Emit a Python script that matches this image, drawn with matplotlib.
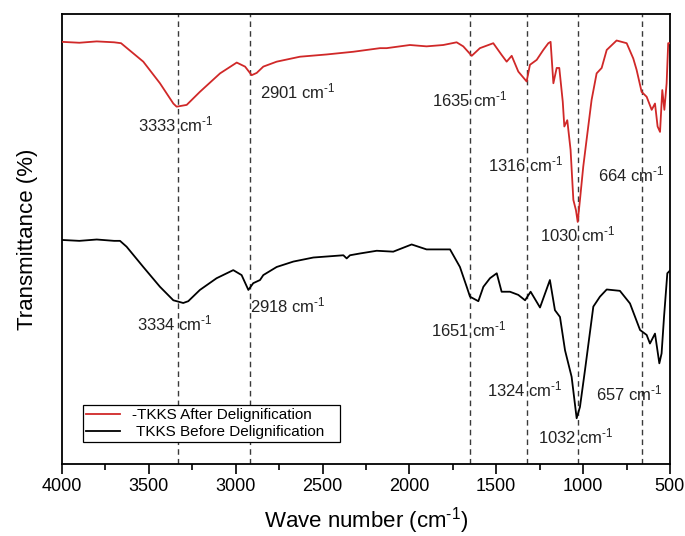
import matplotlib
matplotlib.use("Agg")
import matplotlib.pyplot as plt
from matplotlib.ticker import MultipleLocator

plt.rcParams['font.family'] = ['Liberation Sans', 'DejaVu Sans']
plt.rcParams['mathtext.default'] = 'regular'

# After delignification (red)
after_wn = [4000, 3900, 3800, 3700, 3660, 3532, 3436, 3359, 3340, 3282, 3206, 3090, 2994, 2946,
            2908, 2879, 2841, 2764, 2630, 2476, 2323, 2169, 2131, 1997, 1901, 1805, 1728, 1690,
            1641, 1594, 1517, 1469, 1440, 1411, 1373, 1325, 1306, 1267, 1229, 1200, 1187, 1171,
            1152, 1137, 1117, 1108, 1091, 1072, 1056, 1041, 1031, 1018, 999, 980, 951, 922, 893,
            864, 807, 749, 711, 692, 663, 634, 605, 586, 571, 557, 544, 532, 519, 510, 500]
after_t = [93.8, 93.6, 93.9, 93.7, 93.5, 89.4, 84.6, 80.1, 79.4, 79.8, 82.7, 86.8, 89.2, 88.3,
           86.4, 86.9, 88.3, 89.4, 90.5, 91.0, 91.6, 92.4, 92.4, 93.1, 92.8, 93.1, 93.7, 92.8,
           90.7, 92.4, 93.5, 90.9, 89.4, 90.7, 87.2, 85.0, 88.7, 89.8, 92.0, 93.5, 93.8, 84.6,
           88.0, 88.0, 80.5, 75.0, 76.4, 69.8, 58.7, 56.4, 53.8, 58.7, 66.1, 72.0, 80.9, 86.8, 88.0,
           92.0, 94.1, 93.5, 90.1, 87.6, 82.7, 81.6, 78.7, 80.1, 75.0, 73.8, 83.1, 78.7, 84.6, 93.5, 93.5]

# Before delignification (black)
before_wn = [4000, 3900, 3800, 3700, 3666, 3628, 3532, 3436, 3359, 3302, 3273, 3206, 3110, 3014,
             2966, 2927, 2899, 2860, 2841, 2764, 2668, 2553, 2380, 2361, 2342, 2284, 2188, 2093,
             1987, 1901, 1766, 1709, 1670, 1651, 1603, 1574, 1536, 1497, 1469, 1421, 1373, 1334,
             1302, 1248, 1191, 1162, 1133, 1104, 1066, 1037, 1018, 989, 941, 903, 864, 788, 730,
             672, 634, 615, 586, 561, 548, 534, 515, 500]
before_t = [49.8, 49.6, 49.9, 49.6, 49.6, 48.3, 43.8, 39.4, 36.4, 35.8, 36.2, 38.7, 41.3, 43.1,
            42.0, 38.7, 40.2, 40.9, 42.0, 43.8, 45.0, 45.9, 46.4, 45.7, 46.4, 46.8, 47.4, 47.2,
            48.8, 47.7, 47.7, 43.8, 39.4, 37.2, 36.2, 39.4, 41.3, 42.4, 38.3, 38.3, 37.6, 36.4,
            38.3, 34.8, 40.9, 34.2, 32.7, 25.3, 19.4, 10.2, 12.7, 20.9, 35.0, 37.2, 38.8, 38.5, 35.7,
            29.8, 28.7, 26.8, 29.0, 22.4, 24.6, 32.7, 42.4, 43.0]

peak_lines = [3334, 2918, 1651, 1324, 1032, 660]

labels_after = ['3333', '2901', '1635', '1316', '664', '1030']
labels_after_pos = [(3562, 73.8), (2860, 81.3), (1872, 79.4), (1548, 65.0), (914, 62.7), (1248, 49.4)]
labels_before = ['3334', '2918', '1651', '1324', '657', '1032']
labels_before_pos = [(3568, 29.8), (2918, 33.8), (1876, 28.3), (1553, 15.0), (926, 14.2), (1260, 4.6)]

SUP = '$^{\u2010' + '1}$'

fig = plt.figure(figsize=(6.85, 5.36), dpi=100)
ax = fig.add_axes([0.0905, 0.134, 0.8875, 0.840])

for w in peak_lines:
    ax.axvline(w, color='#3a3a3a', lw=1.0, dashes=(4, 3), zorder=1)

ax.plot(after_wn, after_t, color='#d02828', lw=1.3, label='-TKKS After Delignification', zorder=3)
ax.plot(before_wn, before_t, color='black', lw=1.3, label=' TKKS Before Delignification', zorder=3)

for lab, (x, y) in zip(labels_after + labels_before, labels_after_pos + labels_before_pos):
    ax.text(x, y, lab + ' cm' + SUP, fontsize=12, ha='left', va='baseline', color='#222222', zorder=4)

ax.set_xlim(4000, 500)
ax.set_ylim(0, 100)
ax.xaxis.set_major_locator(MultipleLocator(500))
ax.xaxis.set_minor_locator(MultipleLocator(250))
ax.tick_params(axis='x', which='major', direction='out', length=7, width=1.2, labelsize=13, pad=3)
ax.tick_params(axis='x', which='minor', direction='out', length=4, width=1.2)
ax.tick_params(axis='y', left=False, labelleft=False)
for s in ax.spines.values():
    s.set_linewidth(1.3)

ax.set_xlabel('Wave number (cm' + SUP + ')', fontsize=16, labelpad=7)
ax.set_ylabel('Transmittance (%)', fontsize=16, labelpad=17)

leg = ax.legend(loc='lower left', bbox_to_anchor=(0.0345, 0.049, 0.423, 0.098), mode='expand',
                borderaxespad=0, fancybox=False, edgecolor='black', framealpha=1, fontsize=11,
                handlelength=2.2, handletextpad=0.8, labelspacing=0.2, borderpad=0.2)
leg.get_frame().set_linewidth(0.9)

fig.savefig('out.png', dpi=100)
